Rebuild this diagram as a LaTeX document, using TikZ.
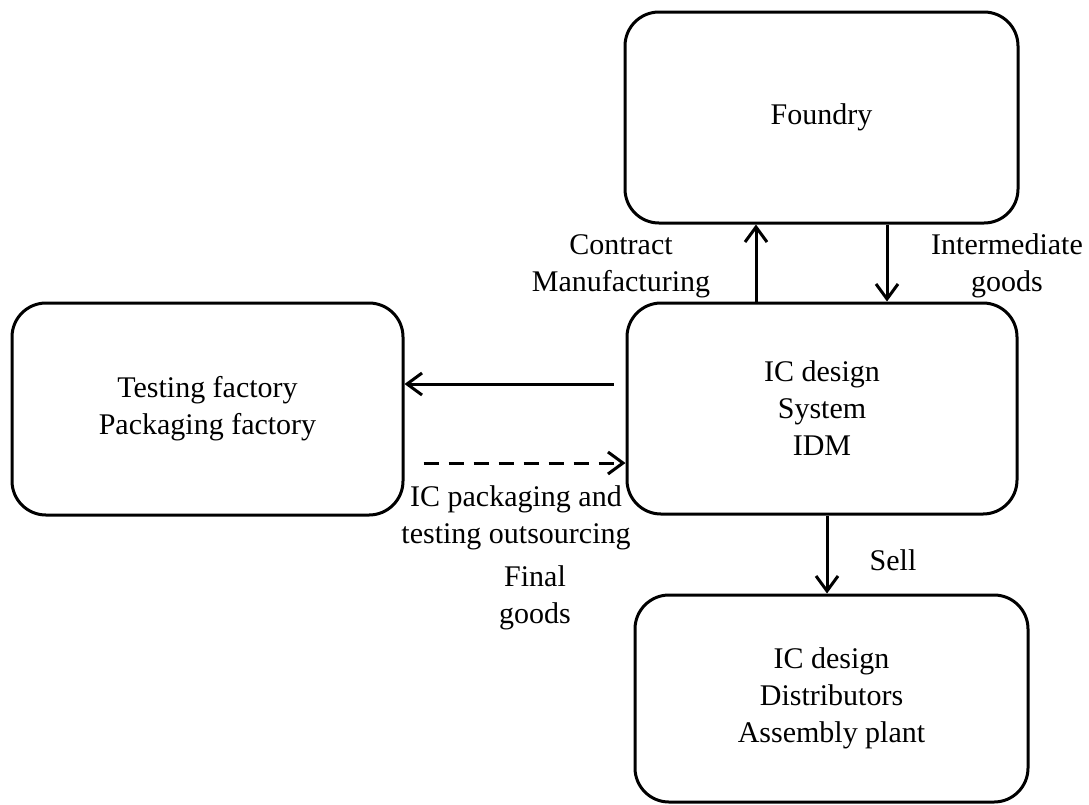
\documentclass[tikz,border=0pt]{standalone}
\usepackage{fontspec}
\setmainfont{Liberation Serif}
\usetikzlibrary{arrows.meta,calc}
\tikzset{
  box/.style={draw, line width=3pt, rounded corners=34pt, align=center,
    font=\fontsize{30}{37}\selectfont, inner sep=0pt},
  lbl/.style={align=center, font=\fontsize{30}{37}\selectfont, inner sep=0pt},
  arr/.style={line width=3pt, -{Straight Barb[length=15pt,width=22pt]}},
  darr/.style={arr, dash pattern=on 15pt off 10pt}
}
\begin{document}
\begin{tikzpicture}[x=1pt,y=-1pt]
\useasboundingbox (0,0) rectangle (1089,804);
\node[box, minimum width=393pt, minimum height=211pt] (fo) at (821.5,117.5) {Foundry};
\node[box, minimum width=390pt, minimum height=211pt] (ic) at (822,408.5) {IC design\\System\\IDM};
\node[box, minimum width=391pt, minimum height=212pt] (tp) at (207.5,409) {Testing factory\\Packaging factory};
\node[box, minimum width=393pt, minimum height=207pt] (bo) at (831.5,698.5) {IC design\\Distributors\\Assembly plant};

\node[lbl] (cm) at (621,266) {Contract\\Manufacturing};
\node[lbl] (ig) at (1007,266) {Intermediate\\goods};
\node[lbl] (se) at (893,560) {Sell};
\node[lbl] (po) at (516,518) {IC packaging and\\testing outsourcing};
\node[lbl] (fg) at (535,598) {Final\\goods};

\coordinate (ux) at (756,0);
\coordinate (dx) at (887,0);
\coordinate (sx) at (827,0);
\coordinate (ly) at (0,384);
\coordinate (dy) at (0,463);

\draw[arr] (ux |- ic.north) -- (ux |- fo.south);
\draw[arr] (dx |- fo.south) -- (dx |- ic.north);
\draw[arr] ([xshift=-12pt]ly -| ic.west) -- (ly -| tp.east);
\draw[darr] ([xshift=19pt]dy -| tp.east) -- (dy -| ic.west);
\draw[arr] (sx |- ic.south) -- (sx |- bo.north);
\end{tikzpicture}
\end{document}
